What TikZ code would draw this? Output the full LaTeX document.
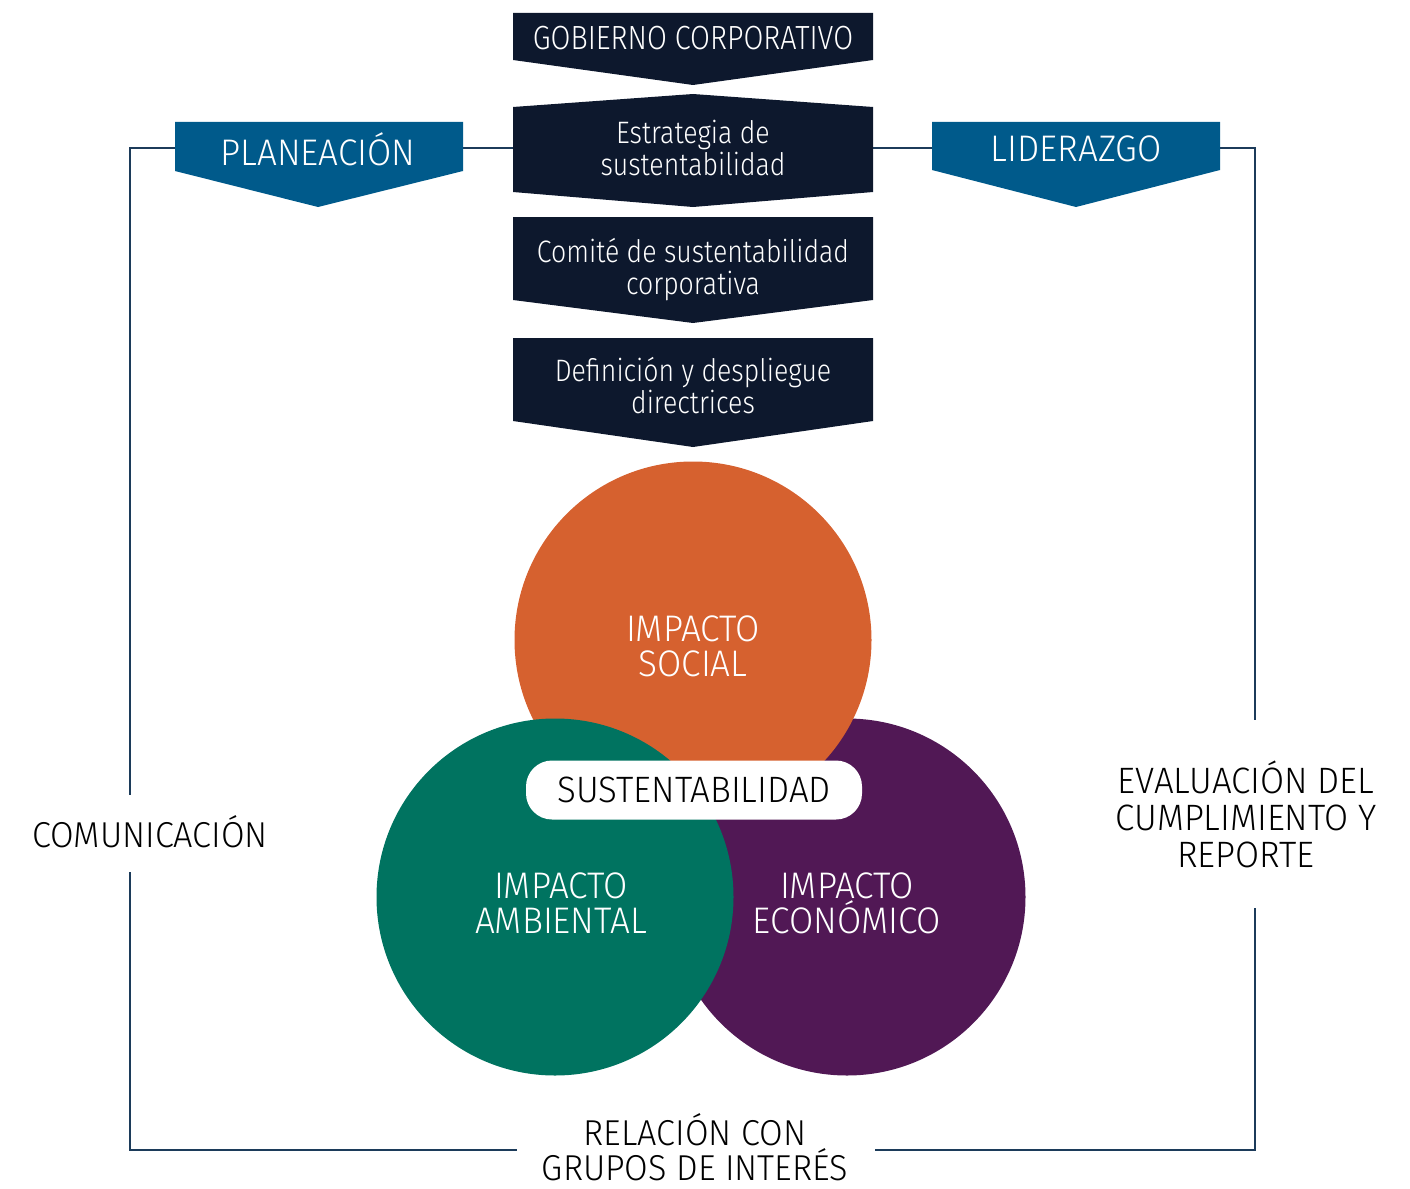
\documentclass[tikz,border=0pt]{standalone}
\usepackage{fontspec}
\setmainfont{Fira Sans Light}[FakeStretch=0.95]
\newfontfamily\boxfont{Fira Sans Light}[FakeStretch=0.86]
\definecolor{navy}{HTML}{0D182D}
\definecolor{bannerblue}{HTML}{005A8B}
\definecolor{linecol}{HTML}{1C3B5A}
\definecolor{orangeC}{HTML}{D6612F}
\definecolor{greenC}{HTML}{007360}
\definecolor{purpleC}{HTML}{511855}
\begin{document}
\begin{tikzpicture}[x=1pt,y=-1pt,
  frame/.style={draw=linecol,line width=2.4pt},
  boxshape/.style={fill=navy},
  bannershape/.style={fill=bannerblue},
  boxtext/.style={text=white,align=center,font=\boxfont\fontsize{31}{32}\selectfont,inner sep=0pt},
  bannertext/.style={text=white,align=center,font=\fontsize{37}{40}\selectfont,inner sep=0pt},
  circtext/.style={text=white,align=center,font=\fontsize{37}{35}\selectfont,inner sep=0pt},
  sidetext/.style={text=black,align=center,font=\fontsize{36.7}{37}\selectfont,inner sep=0pt},
  circ/.style={circle,minimum size=357pt,inner sep=0pt}
]
\useasboundingbox (0,0) rectangle (1410,1188);

% connector end points
\coordinate (pl-w) at (175,148);
\coordinate (pl-e) at (463,148);
\coordinate (es-w) at (513,148);
\coordinate (es-e) at (873,148);
\coordinate (li-w) at (932,148);
\coordinate (li-e) at (1220,148);
\coordinate (com-top) at (130,795);
\coordinate (com-bot) at (130,872);
\coordinate (rel-w) at (517,1150);
\coordinate (rel-e) at (875,1150);
\coordinate (ev-top) at (1255,720);
\coordinate (ev-bot) at (1255,908);

% frame lines
\draw[frame] (pl-w) -| (com-top);
\draw[frame] (com-bot) |- (rel-w);
\draw[frame] (rel-e) -| (ev-bot);
\draw[frame] (li-e) -| (ev-top);
\draw[frame] (pl-e) -- (es-w);
\draw[frame] (es-e) -- (li-w);

% central chevron boxes
\fill[boxshape] (513,13) -- (873,13) -- (873,60) -- (693,85) -- (513,60) -- cycle;
\fill[boxshape] (513,107) -- (693,94) -- (873,107) -- (873,192) -- (693,207) -- (513,192) -- cycle;
\fill[boxshape] (513,217) -- (873,217) -- (873,300) -- (693,323) -- (513,300) -- cycle;
\fill[boxshape] (513,338) -- (873,338) -- (873,421) -- (693,447) -- (513,421) -- cycle;

\node[boxtext,font=\boxfont\fontsize{33.5}{34}\selectfont] (gob) at (693,38) {GOBIERNO CORPORATIVO};
\node[boxtext] (est) at (693,148) {Estrategia de\\sustentabilidad};
\node[boxtext] (com) at (693,270) {Comité de sustentabilidad\\corporativa};
\node[boxtext] (def) at (693,386) {Definición y despliegue\\directrices};

% banners
\fill[bannershape] (175,122) -- (463,122) -- (463,171) -- (318,207) -- (175,171) -- cycle;
\fill[bannershape] (932,122) -- (1220,122) -- (1220,170) -- (1076,207) -- (932,170) -- cycle;
\node[bannertext] (plan) at (318,149) {PLANEACIÓN};
\node[bannertext] (lid) at (1076,149) {LIDERAZGO};

% circles
\node[circ,fill=purpleC] (eco) at (847,897) {};
\node[circ,fill=orangeC] (soc) at (693,640) {};
\node[circ,fill=greenC] (amb) at (555,897) {};

\node[circtext] (soc-t) at (693,646) {IMPACTO\\SOCIAL};
\node[circtext] (amb-t) at (561,903) {IMPACTO\\AMBIENTAL};
\node[circtext] (eco-t) at (847,903) {IMPACTO\\ECONÓMICO};

% sustentabilidad pill
\node[fill=white,rounded corners=26pt,minimum width=336pt,minimum height=59pt,inner sep=0pt,
      font=\fontsize{36.7}{37}\selectfont] (sus) at (694,790) {SUSTENTABILIDAD};

% side labels
\node[sidetext,font=\fontsize{36}{37}\selectfont] (comu) at (150,832) {COMUNICACIÓN};
\node[sidetext] (eval) at (1246,814) {EVALUACIÓN DEL\\CUMPLIMIENTO Y\\REPORTE};
\node[sidetext,font=\fontsize{36}{35}\selectfont] (rel) at (695,1147) {RELACIÓN CON\\GRUPOS DE INTERÉS};
\end{tikzpicture}
\end{document}
